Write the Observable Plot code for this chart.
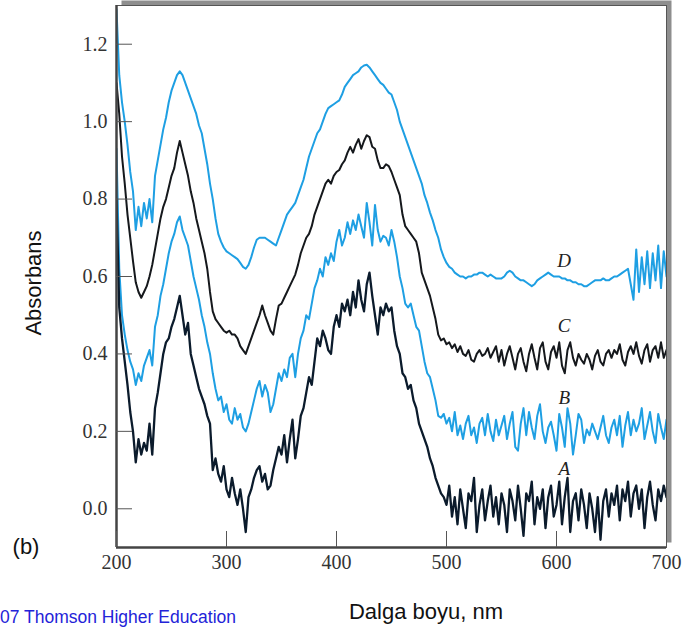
<!DOCTYPE html>
<html>
<head>
<meta charset="utf-8">
<script src="https://cdn.jsdelivr.net/npm/d3@7"></script>
<script src="https://cdn.jsdelivr.net/npm/@observablehq/plot@0.6"></script>
<style>
  html, body { margin: 0; padding: 0; background: #fff; }
  #wrap { position: relative; width: 682px; height: 629px; overflow: hidden; }
  .lbl { position: absolute; font-family: "Liberation Sans", Arial, sans-serif; white-space: nowrap; }
</style>
</head>
<body>
<div id="wrap">
  <div id="chart"></div>
  <div class="lbl" style="left:34px;top:283px;font-size:22px;color:#111;transform:translate(-50%,-50%) rotate(-90deg);">Absorbans</div>
  <div class="lbl" style="left:426px;top:612px;font-size:22px;color:#111;transform:translate(-50%,-50%);">Dalga boyu, nm</div>
  <div class="lbl" style="left:26px;top:547px;font-size:22px;color:#111;transform:translate(-50%,-50%);">(b)</div>
  <div class="lbl" style="left:0px;top:617px;font-size:17.5px;color:#2323d8;transform:translate(0,-50%);">07 Thomson Higher Education</div>
</div>
<script>
// wavelength grid (nm), 2.5 nm step
const xDomain = [200, 700];
const yDomain = [-0.1, 1.3];
const xTicks = [200, 300, 400, 500, 600, 700];
const yTicks = [0.0, 0.2, 0.4, 0.6, 0.8, 1.0, 1.2];
const wavelengths = d3.range(200, 700.01, 2.5);

const seriesD = [
  1.29,1.12,1.05,1.00,0.94,0.87,0.82,0.72,0.78,0.73,0.79,0.75,0.80,0.74,0.86,0.90,0.94,0.98,1.01,1.05,
  1.08,1.10,1.12,1.13,1.12,1.10,1.08,1.06,1.04,1.02,0.99,0.97,0.93,0.89,0.84,0.80,0.75,0.71,0.69,0.675,
  0.665,0.66,0.655,0.65,0.645,0.635,0.625,0.62,0.63,0.65,0.675,0.695,0.70,0.70,0.70,0.695,0.69,0.685,0.68,0.70,
  0.72,0.74,0.76,0.77,0.78,0.79,0.81,0.83,0.85,0.88,0.91,0.93,0.95,0.97,0.98,1.00,1.02,1.035,1.04,1.045,
  1.05,1.055,1.07,1.09,1.10,1.11,1.12,1.125,1.13,1.14,1.145,1.147,1.14,1.13,1.12,1.11,1.10,1.095,1.085,1.075,
  1.07,1.05,1.03,1.00,0.98,0.96,0.94,0.92,0.90,0.88,0.86,0.84,0.81,0.79,0.765,0.745,0.72,0.70,0.67,0.65,
  0.635,0.625,0.62,0.61,0.605,0.60,0.60,0.595,0.60,0.60,0.605,0.605,0.61,0.61,0.605,0.60,0.605,0.60,0.595,0.595,
  0.595,0.60,0.61,0.615,0.61,0.60,0.595,0.59,0.59,0.585,0.58,0.575,0.58,0.59,0.595,0.60,0.605,0.61,0.605,0.60,
  0.60,0.60,0.595,0.595,0.59,0.59,0.585,0.585,0.58,0.58,0.575,0.575,0.58,0.585,0.59,0.59,0.59,0.595,0.59,0.59,
  0.595,0.60,0.60,0.605,0.61,0.615,0.62,0.58,0.54,0.67,0.56,0.65,0.58,0.665,0.57,0.66,0.59,0.68,0.57,0.665,
  0.60
];

const seriesC = [
  1.10,1.02,0.91,0.84,0.76,0.70,0.64,0.585,0.56,0.545,0.56,0.575,0.60,0.63,0.67,0.71,0.75,0.78,0.80,0.83,
  0.86,0.88,0.92,0.95,0.92,0.89,0.86,0.82,0.79,0.75,0.72,0.69,0.66,0.62,0.56,0.51,0.49,0.48,0.47,0.46,
  0.455,0.46,0.45,0.45,0.44,0.42,0.41,0.40,0.42,0.44,0.46,0.48,0.50,0.525,0.50,0.48,0.46,0.45,0.49,0.525,
  0.53,0.545,0.56,0.575,0.59,0.605,0.63,0.66,0.68,0.70,0.71,0.73,0.76,0.78,0.80,0.82,0.84,0.85,0.84,0.86,
  0.87,0.875,0.89,0.90,0.92,0.935,0.92,0.94,0.955,0.93,0.95,0.965,0.96,0.935,0.93,0.90,0.88,0.88,0.89,0.885,
  0.87,0.85,0.83,0.81,0.76,0.73,0.72,0.71,0.70,0.69,0.66,0.61,0.59,0.57,0.55,0.52,0.49,0.45,0.435,0.44,
  0.425,0.43,0.415,0.425,0.405,0.42,0.40,0.395,0.41,0.385,0.38,0.40,0.41,0.395,0.40,0.415,0.39,0.405,0.42,0.38,
  0.41,0.37,0.40,0.42,0.39,0.36,0.40,0.415,0.38,0.355,0.40,0.425,0.39,0.36,0.415,0.43,0.38,0.36,0.405,0.42,
  0.39,0.43,0.37,0.35,0.41,0.43,0.39,0.37,0.40,0.385,0.375,0.40,0.385,0.36,0.395,0.41,0.38,0.37,0.40,0.41,
  0.39,0.41,0.40,0.425,0.385,0.37,0.405,0.42,0.40,0.43,0.395,0.375,0.41,0.425,0.38,0.41,0.42,0.39,0.43,0.39,
  0.41
];

const seriesB = [
  0.93,0.62,0.50,0.45,0.41,0.38,0.36,0.32,0.35,0.33,0.37,0.39,0.41,0.37,0.47,0.50,0.55,0.58,0.62,0.66,
  0.69,0.71,0.74,0.755,0.72,0.70,0.68,0.64,0.60,0.57,0.54,0.50,0.47,0.43,0.40,0.35,0.31,0.28,0.29,0.25,
  0.27,0.23,0.22,0.26,0.23,0.245,0.21,0.20,0.22,0.25,0.28,0.31,0.33,0.29,0.32,0.30,0.25,0.27,0.31,0.35,
  0.33,0.36,0.34,0.39,0.40,0.34,0.40,0.44,0.46,0.50,0.49,0.53,0.57,0.59,0.62,0.60,0.65,0.63,0.66,0.64,
  0.69,0.72,0.68,0.70,0.74,0.71,0.745,0.72,0.76,0.73,0.70,0.79,0.74,0.68,0.785,0.72,0.69,0.705,0.70,0.68,
  0.72,0.69,0.65,0.60,0.57,0.53,0.52,0.53,0.50,0.47,0.46,0.42,0.38,0.35,0.34,0.31,0.28,0.24,0.235,0.245,
  0.22,0.235,0.20,0.25,0.19,0.215,0.18,0.22,0.24,0.19,0.21,0.17,0.22,0.235,0.19,0.245,0.20,0.175,0.23,0.19,
  0.215,0.24,0.18,0.22,0.25,0.16,0.15,0.22,0.26,0.19,0.25,0.21,0.18,0.24,0.27,0.20,0.17,0.21,0.225,0.19,
  0.15,0.245,0.21,0.16,0.26,0.22,0.14,0.19,0.245,0.23,0.17,0.205,0.19,0.22,0.20,0.18,0.21,0.24,0.19,0.17,
  0.21,0.23,0.19,0.24,0.16,0.215,0.25,0.19,0.23,0.20,0.22,0.26,0.18,0.215,0.25,0.20,0.17,0.245,0.21,0.18,
  0.23
];

const seriesA = [
  0.80,0.52,0.44,0.38,0.32,0.25,0.20,0.12,0.18,0.14,0.17,0.15,0.22,0.14,0.26,0.30,0.35,0.40,0.43,0.44,
  0.47,0.49,0.52,0.55,0.50,0.45,0.48,0.40,0.37,0.34,0.31,0.29,0.27,0.24,0.22,0.10,0.13,0.09,0.07,0.11,
  0.05,0.03,0.08,0.04,0.01,0.05,0.00,-0.06,0.03,0.05,0.08,0.10,0.11,0.07,0.09,0.05,0.06,0.10,0.13,0.16,
  0.14,0.19,0.12,0.18,0.23,0.13,0.18,0.24,0.26,0.30,0.34,0.32,0.38,0.44,0.42,0.46,0.44,0.41,0.40,0.47,
  0.50,0.47,0.53,0.51,0.54,0.50,0.56,0.52,0.59,0.54,0.51,0.58,0.61,0.55,0.50,0.45,0.52,0.50,0.53,0.51,
  0.52,0.46,0.42,0.40,0.35,0.34,0.31,0.32,0.28,0.26,0.22,0.20,0.18,0.16,0.13,0.11,0.08,0.06,0.04,0.03,
  0.01,0.06,-0.02,0.03,-0.04,0.05,0.00,-0.05,0.04,0.02,0.08,-0.06,0.01,0.05,-0.03,0.02,0.06,-0.02,0.03,-0.04,
  0.04,0.01,-0.06,0.05,0.02,-0.03,0.06,0.00,-0.07,0.04,0.02,0.07,-0.04,0.03,0.00,0.05,-0.05,0.03,0.06,-0.02,
  0.01,0.07,-0.04,0.03,0.08,-0.06,0.02,0.04,-0.03,0.05,0.01,-0.05,0.04,0.00,-0.06,0.03,-0.08,0.02,0.05,-0.02,
  0.04,0.01,0.06,-0.03,0.05,0.02,0.07,-0.02,0.04,0.06,0.00,0.05,-0.05,0.03,0.07,0.01,-0.03,0.05,0.02,0.06,
  0.03
];

const seriesNames = ["D", "C", "B", "A"];
const seriesColors = ["#1e9fe3", "#15181c", "#1e9fe3", "#0b1b2c"];
const seriesWidths = [2, 2, 2, 2.3];
// label annotation positions (nm, absorbance)
const labelW = [607, 607, 607, 607];
const labelV = [0.64, 0.472, 0.286, 0.103];

const allSeries = [seriesD, seriesC, seriesB, seriesA];
const lineMarks = allSeries.map((vals, k) =>
  Plot.lineY(wavelengths.map((w, i) => ({w, v: vals[i]})), {
    x: "w", y: "v", stroke: seriesColors[k], strokeWidth: seriesWidths[k], clip: true
  })
);
const labels = seriesNames.map((t, k) => ({t, w: labelW[k], v: labelV[k]}));

const chart = Plot.plot({
  width: 682,
  height: 629,
  marginLeft: 116,
  marginRight: 16,
  marginTop: 5,
  marginBottom: 82,
  x: {domain: xDomain},
  y: {domain: yDomain},
  style: {fontFamily: "'Liberation Serif', 'Times New Roman', serif", fontSize: "20px", color: "#333", background: "transparent"},
  marks: [
    Plot.frame({fill: "#8e8e8e", dx: 5, dy: -5}),
    Plot.frame({fill: "white", stroke: "#555", strokeWidth: 1}),
    ...lineMarks,
    Plot.text(labels, {x: "w", y: "v", text: "t", fontStyle: "italic", fontSize: 19, fill: "#222", fontFamily: "'Liberation Serif', serif"}),
    Plot.ruleX([xDomain[0]], {stroke: "#444", strokeWidth: 2.5}),
    Plot.ruleY([yDomain[0]], {stroke: "#444", strokeWidth: 2.5}),
    Plot.axisX({ticks: xTicks, tickSize: -16, tickPadding: 23, tickFormat: d3.format("d"), label: null, stroke: "#555"}),
    Plot.axisY({ticks: yTicks, tickSize: -16, tickPadding: 25, tickFormat: d3.format(".1f"), label: null, stroke: "#555"})
  ]
});
document.getElementById("chart").appendChild(chart);
</script>
</body>
</html>
